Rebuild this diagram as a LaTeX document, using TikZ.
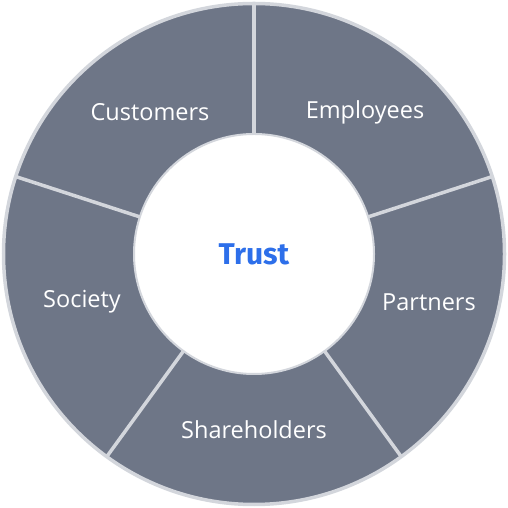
\documentclass[tikz,border=0pt]{standalone}
\usepackage{fontspec}
\setmainfont{Open Sans}
\newfontfamily\trustfont{Fira Sans}
\usetikzlibrary{calc}
\definecolor{segfill}{HTML}{6E7687}
\definecolor{segline}{HTML}{D3D6DC}
\definecolor{trustblue}{HTML}{2D6FEA}
\begin{document}
\begin{tikzpicture}[x=1pt,y=1pt,
  lbl/.style={text=white,font=\fontsize{23.5}{27}\selectfont},
  divider/.style={draw=segline,line width=3.5pt}]
\useasboundingbox (0,0) rectangle (508,508);
\coordinate (c) at (254,254);
\fill[segfill,draw=segline,line width=3.5pt] (c) circle[radius=250.5];
\foreach \a in {90,18,-54,-126,162}{
  \draw[divider] ($(c)+(\a:118)$) -- ($(c)+(\a:251)$);
}
\node[circle,fill=white,draw=segline,line width=2pt,minimum size=240pt,inner sep=0pt] (hub) at (c) {};
\node[text=trustblue,font=\trustfont\fontsize{30}{34}\selectfont\bfseries] (trust) at (254,254) {Trust};
\node[lbl] (cust) at (150,396) {Customers};
\node[lbl] (emp) at (365,396) {Employees};
\node[lbl] (part) at (429,206) {Partners};
\node[lbl] (soc) at (82,206) {Society};
\node[lbl] (share) at (254,78) {Shareholders};
\end{tikzpicture}
\end{document}
